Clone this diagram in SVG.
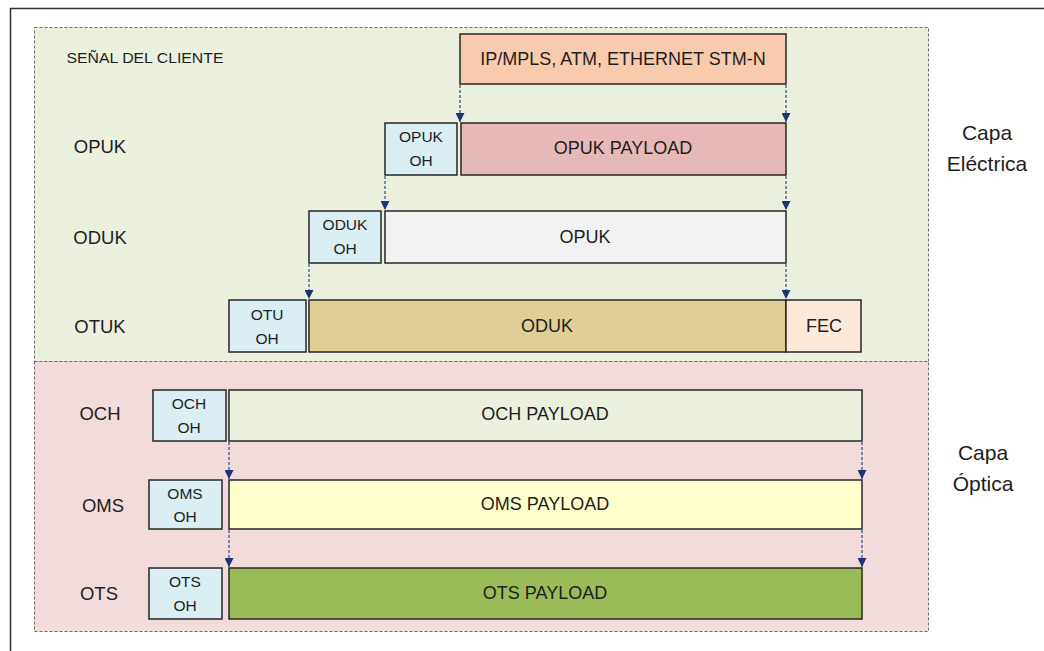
<svg xmlns="http://www.w3.org/2000/svg" width="1044" height="651" viewBox="0 0 1044 651">
<defs>
<style>
.t{font-family:"Liberation Sans",Arial,sans-serif;fill:#1e1e1e;text-anchor:middle;dominant-baseline:central}
.box{stroke:#262626;stroke-width:1.5}
.oh{fill:#DAEEF3}
.region{stroke:#6b6b6b;stroke-width:1;stroke-dasharray:3,2}
.conn{stroke:#2F4A8A;stroke-width:1.2;stroke-dasharray:3,2;fill:none}
.pl{font-size:18px}
.sm{font-size:15.5px}
.row{font-size:18.5px}
.side{font-size:21px}
</style>
<marker id="ah" viewBox="0 0 10 10" refX="10" refY="5" markerWidth="9" markerHeight="9" markerUnits="userSpaceOnUse" orient="auto">
<path d="M0,0 L10,5 L0,10 Z" fill="#1F3474"/>
</marker>
</defs>
<rect x="0" y="0" width="1044" height="651" fill="#ffffff"/>
<rect x="10.5" y="8.5" width="1040" height="660" fill="none" stroke="#333" stroke-width="1.5"/>

<g id="capa-electrica">
<rect class="region" x="34.5" y="27.5" width="894" height="334" fill="#EBF1DE"/>
<text class="t side" x="987" y="132">Capa</text>
<text class="t side" x="987" y="163">Eléctrica</text>
</g>
<g id="capa-optica">
<rect class="region" x="34.5" y="361.5" width="894" height="270" fill="#F2DCDB"/>
<text class="t side" x="983" y="452">Capa</text>
<text class="t side" x="983" y="483">Óptica</text>
</g>

<g id="labels">
<text class="t" x="145" y="57" font-size="15" textLength="157" lengthAdjust="spacingAndGlyphs">SEÑAL DEL CLIENTE</text>
<text class="t row" x="100" y="146">OPUK</text>
<text class="t row" x="100" y="237">ODUK</text>
<text class="t row" x="100" y="326">OTUK</text>
<text class="t row" x="100" y="413">OCH</text>
<text class="t row" x="103" y="505">OMS</text>
<text class="t row" x="99" y="593">OTS</text>
</g>

<g id="client">
<rect class="box" x="460" y="34" width="326" height="50" fill="#F8CBAD"/>
<text class="t pl" x="623" y="59">IP/MPLS, ATM, ETHERNET STM-N</text>
</g>

<g id="opuk-oh">
<rect class="box oh" x="385" y="123" width="72" height="52"/>
<text class="t sm" x="421" y="136">OPUK</text>
<text class="t sm" x="421" y="160">OH</text>
</g>
<g id="opuk-payload">
<rect class="box" x="461" y="123" width="325" height="52" fill="#E6B9B8"/>
<text class="t pl" x="623" y="148">OPUK PAYLOAD</text>
</g>

<g id="oduk-oh">
<rect class="box oh" x="309" y="211" width="72" height="52"/>
<text class="t sm" x="345" y="224">ODUK</text>
<text class="t sm" x="345" y="248">OH</text>
</g>
<g id="oduk-opuk">
<rect class="box" x="385" y="211" width="401" height="52" fill="#F2F2F2"/>
<text class="t pl" x="585" y="237">OPUK</text>
</g>

<g id="otu-oh">
<rect class="box oh" x="229" y="300" width="77" height="52"/>
<text class="t sm" x="267" y="314">OTU</text>
<text class="t sm" x="267" y="338">OH</text>
</g>
<g id="otuk-oduk">
<rect class="box" x="309" y="300" width="477" height="52" fill="#DFCE95"/>
<text class="t pl" x="547" y="326">ODUK</text>
</g>
<g id="fec">
<rect class="box" x="786" y="300" width="75" height="52" fill="#FDE9D9"/>
<text class="t pl" x="824" y="326">FEC</text>
</g>

<g id="och-oh">
<rect class="box oh" x="153" y="390" width="73" height="51"/>
<text class="t sm" x="189" y="403">OCH</text>
<text class="t sm" x="189" y="427">OH</text>
</g>
<g id="och-payload">
<rect class="box" x="229" y="390" width="633" height="51" fill="#EBF1DE"/>
<text class="t pl" x="545" y="414">OCH PAYLOAD</text>
</g>

<g id="oms-oh">
<rect class="box oh" x="149" y="480" width="73" height="49"/>
<text class="t sm" x="185" y="493">OMS</text>
<text class="t sm" x="185" y="516">OH</text>
</g>
<g id="oms-payload">
<rect class="box" x="229" y="480" width="633" height="49" fill="#FFFFCC"/>
<text class="t pl" x="545" y="504">OMS PAYLOAD</text>
</g>

<g id="ots-oh">
<rect class="box oh" x="149" y="568" width="73" height="51"/>
<text class="t sm" x="185" y="581">OTS</text>
<text class="t sm" x="185" y="605">OH</text>
</g>
<g id="ots-payload">
<rect class="box" x="229" y="568" width="633" height="51" fill="#9BBB59"/>
<text class="t pl" x="545" y="593">OTS PAYLOAD</text>
</g>

<g id="connectors">
<line class="conn" x1="460" y1="85" x2="460" y2="122" marker-end="url(#ah)"/>
<line class="conn" x1="786" y1="85" x2="786" y2="122" marker-end="url(#ah)"/>
<line class="conn" x1="385" y1="176" x2="385" y2="210" marker-end="url(#ah)"/>
<line class="conn" x1="786" y1="176" x2="786" y2="210" marker-end="url(#ah)"/>
<line class="conn" x1="309" y1="264" x2="309" y2="299" marker-end="url(#ah)"/>
<line class="conn" x1="786" y1="264" x2="786" y2="299" marker-end="url(#ah)"/>
<line class="conn" x1="229" y1="442" x2="229" y2="479" marker-end="url(#ah)"/>
<line class="conn" x1="862" y1="442" x2="862" y2="479" marker-end="url(#ah)"/>
<line class="conn" x1="229" y1="530" x2="229" y2="567" marker-end="url(#ah)"/>
<line class="conn" x1="862" y1="530" x2="862" y2="567" marker-end="url(#ah)"/>
</g>
</svg>
